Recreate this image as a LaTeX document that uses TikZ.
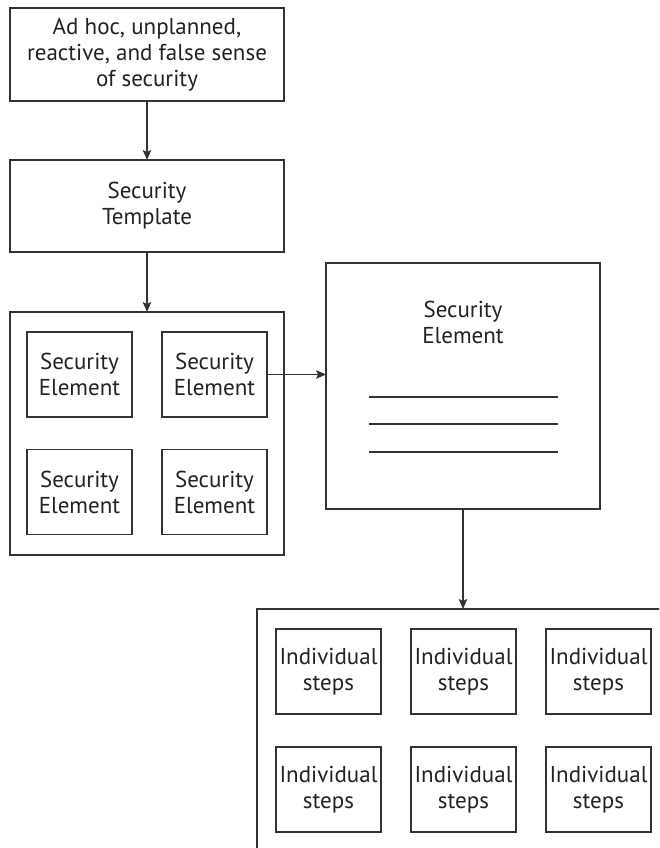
\documentclass[tikz,border=0pt]{standalone}
\usepackage{fontspec}
\setmainfont{PT Sans}
\usetikzlibrary{arrows.meta}
\definecolor{ink}{HTML}{333333}
\definecolor{txt}{HTML}{222222}
\tikzset{
  x=1pt, y=-1pt,
  box/.style={draw=ink, line width=1.4pt, rectangle, inner sep=0pt, outer sep=0pt,
    align=center, text=txt, font=\fontsize{23}{26}\selectfont},
  bigbox/.style={box, minimum width=274pt},
  elem/.style={box, minimum width=105pt, minimum height=85pt},
  frame/.style={draw=ink, line width=1.4pt, rectangle, inner sep=0pt, outer sep=0pt},
  link/.style={draw=ink, line width=1.4pt, -{Stealth[length=10pt,width=8.5pt,inset=2pt]}},
  rule/.style={draw=ink, line width=1.4pt}
}
\begin{document}
\begin{tikzpicture}
\useasboundingbox (0,0) rectangle (659,848);
\clip (0,0) rectangle (659,848);

% starting state and the template
\node[bigbox, minimum height=93pt] (adhoc) at (147,54.5)
  {Ad hoc, unplanned,\\reactive, and false sense\\of security};
\node[bigbox, minimum height=92pt] (tmpl) at (147,206) {Security\\Template};

% template made of four security elements
\node[frame, minimum width=274pt, minimum height=243pt] (group) at (147,433.5) {};
\node[elem] (e1) at (79.5,374.5) {Security\\Element};
\node[elem] (e2) at (214.5,374.5) {Security\\Element};
\node[elem] (e3) at (79.5,492) {Security\\Element};
\node[elem] (e4) at (214.5,492) {Security\\Element};

% one security element in detail
\node[frame, minimum width=274pt, minimum height=246pt] (detail) at (463,386) {};
\node[box, draw=none] (dtitle) at (463,322) {Security\\Element};
\draw[rule] (369,397) -- (558,397);
\draw[rule] (369,424) -- (558,424);
\draw[rule] (369,452) -- (558,452);

% individual steps of the element
\node[frame, minimum width=412pt, minimum height=261pt] (steps) at (463,739.5) {};
\node[elem] (s1) at (328.5,671.5) {Individual\\steps};
\node[elem] (s2) at (463.5,671.5) {Individual\\steps};
\node[elem] (s3) at (598.5,671.5) {Individual\\steps};
\node[elem] (s4) at (328.5,789.5) {Individual\\steps};
\node[elem] (s5) at (463.5,789.5) {Individual\\steps};
\node[elem] (s6) at (598.5,789.5) {Individual\\steps};

% connectors
\draw[link] (adhoc.south) -- (tmpl.north);
\draw[link] (tmpl.south) -- (group.north);
\draw[link] (e2.east) -- (detail.west |- e2.east);
\draw[link] (detail.south) -- (steps.north);
\end{tikzpicture}
\end{document}
